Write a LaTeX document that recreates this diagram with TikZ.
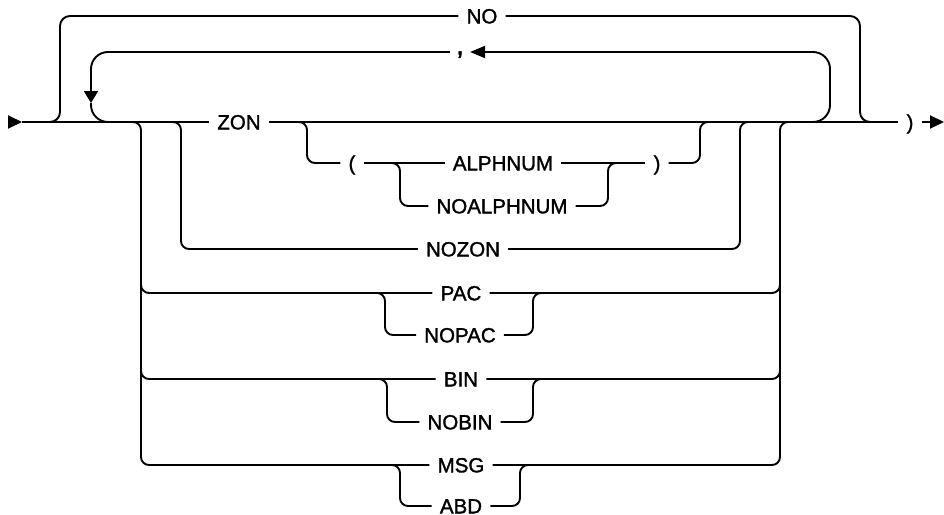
\documentclass[tikz,border=0pt]{standalone}
\usepackage{fontspec}
\setmainfont{Liberation Sans}
\newfontfamily\lblfont{Liberation Sans}[FakeBold=1.5]
\usetikzlibrary{arrows.meta}
\begin{document}
\begin{tikzpicture}[x=1pt,y=-1pt,
  rr/.style={line width=1.9pt, line join=round},
  lbl/.style={font=\lblfont\fontsize{20.5}{24}\selectfont, inner xsep=8pt, inner ysep=0pt,
              text height=14.7pt, text depth=0pt, anchor=center},
  tipR/.style={-{Triangle[length=14pt,width=13pt]}},
  tipL/.style={-{Triangle[length=15pt,width=12pt]}},
  tipD/.style={-{Triangle[length=12pt,width=14pt]}},
  bc/.style={rr, rounded corners=8pt},
  nc/.style={rr, rounded corners=10pt},
  lc/.style={rr, rounded corners=17pt}]
\useasboundingbox (0,0) rectangle (944,514);

% labels
\node[lbl] (no) at (482,16) {NO};
\node[lbl, inner xsep=6pt, font=\lblfont\fontsize{28}{30}\selectfont] (comma) at (460,52) {\raisebox{5pt}{,}};
\node[lbl] (zon) at (239,122) {ZON};
\node[lbl] (lp) at (352,163) {(};
\node[lbl] (alph) at (503,163) {ALPHNUM};
\node[lbl] (rp) at (657,163) {)};
\node[lbl] (noalph) at (502,206) {NOALPHNUM};
\node[lbl] (nozon) at (463,249) {NOZON};
\node[lbl] (pac) at (461,293) {PAC};
\node[lbl] (nopac) at (460,335) {NOPAC};
\node[lbl] (bin) at (461,379) {BIN};
\node[lbl] (nobin) at (460,422) {NOBIN};
\node[lbl] (msg) at (461,465) {MSG};
\node[lbl] (abd) at (461,506) {ABD};
\node[lbl] (endp) at (910,122) {)};

% junction coordinates
\coordinate (s0) at (8,122);
\coordinate (s1) at (22,122);
\coordinate (e1) at (944,122);
\coordinate (noL) at (60,122);
\coordinate (noR) at (860,122);
\coordinate (lpL) at (91,122);
\coordinate (lpA) at (91,103);
\coordinate (lpR) at (830,122);
\coordinate (oL) at (141,122);
\coordinate (oR) at (780,122);
\coordinate (oLp) at (141,293);
\coordinate (oRp) at (780,293);
\coordinate (oLb) at (141,379);
\coordinate (oRb) at (780,379);
\coordinate (zL) at (181,122);
\coordinate (zR) at (740,122);
\coordinate (gL) at (307,122);
\coordinate (gR) at (700,122);
\coordinate (aL) at (400,163);
\coordinate (aR) at (608,163);
\coordinate (pL) at (385,293);
\coordinate (pR) at (533,293);
\coordinate (bL) at (387,379);
\coordinate (bR) at (533,379);
\coordinate (mL) at (400,465);
\coordinate (mR) at (520,465);

% main line
\draw[rr, tipR] (s0) -- (s1);
\draw[rr] (s1) -- (zon.west);
\draw[rr] (zon.east) -- (endp.west);
\draw[rr, tipR] (endp.east) -- (e1);

% NO bypass
\draw[nc] ([xshift=-20pt]noL) -- (noL) |- (no.west);
\draw[nc] (no.east) -| (noR) -- ([xshift=20pt]noR);

% repeat loop
\draw[lc, tipL] ([xshift=-30pt]lpR) -- (lpR) |- (comma.east);
\draw[lc, tipD] (comma.west) -| (lpA);
\draw[lc] (lpA) |- ([xshift=30pt]lpL);

% outer choice
\draw[bc] ([xshift=-15pt]oL) -- (oL) |- (msg.west);
\draw[bc] (msg.east) -| (oR) -- ([xshift=15pt]oR);
\draw[bc] ([yshift=20pt]oLp) -- (oLp) -- (pac.west);
\draw[bc] (pac.east) -- (oRp) -- ([yshift=20pt]oRp);
\draw[bc] ([yshift=20pt]oLb) -- (oLb) -- (bin.west);
\draw[bc] (bin.east) -- (oRb) -- ([yshift=20pt]oRb);

% ZON / NOZON
\draw[bc] ([xshift=-15pt]zL) -- (zL) |- (nozon.west);
\draw[bc] (nozon.east) -| (zR) -- ([xshift=15pt]zR);

% optional ( ALPHNUM | NOALPHNUM )
\draw[bc] ([xshift=-15pt]gL) -- (gL) |- (lp.west);
\draw[bc] (rp.east) -| (gR) -- ([xshift=15pt]gR);
\draw[rr] (lp.east) -- (alph.west);
\draw[rr] (alph.east) -- (rp.west);
\draw[bc] ([xshift=-15pt]aL) -- (aL) |- (noalph.west);
\draw[bc] (noalph.east) -| (aR) -- ([xshift=15pt]aR);

% PAC / NOPAC
\draw[bc] ([xshift=-15pt]pL) -- (pL) |- (nopac.west);
\draw[bc] (nopac.east) -| (pR) -- ([xshift=15pt]pR);

% BIN / NOBIN
\draw[bc] ([xshift=-15pt]bL) -- (bL) |- (nobin.west);
\draw[bc] (nobin.east) -| (bR) -- ([xshift=15pt]bR);

% MSG / ABD
\draw[bc] ([xshift=-15pt]mL) -- (mL) |- (abd.west);
\draw[bc] (abd.east) -| (mR) -- ([xshift=15pt]mR);
\end{tikzpicture}
\end{document}
